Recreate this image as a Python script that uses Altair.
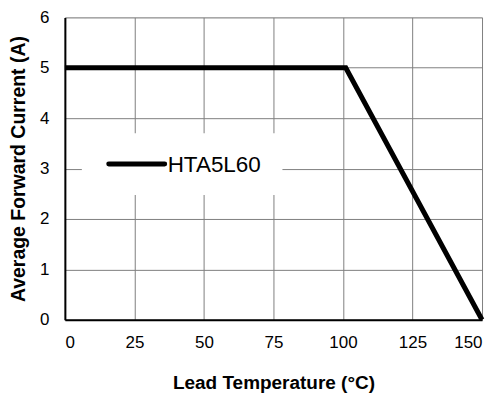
import altair as alt
import pandas as pd

temps = [0, 101, 150]
currents = [5, 5, 0]
series = "HTA5L60"
x_ticks = [0, 25, 50, 75, 100, 125, 150]
y_ticks = [0, 1, 2, 3, 4, 5, 6]

df = pd.DataFrame({"t": temps, "i": currents})

FONT = "Liberation Sans"

x = alt.X("t:Q", scale=alt.Scale(domain=[0, 150], nice=False),
          axis=alt.Axis(values=x_ticks, title="Lead Temperature (°C)", ticks=False,
                        labelPadding=15, titlePadding=23, labelFontSize=17,
                        titleFontSize=19, titleFontWeight="bold", labelColor="black",
                        titleColor="black", domainColor="black", domainWidth=2,
                        gridColor="#808080", gridWidth=1, labelFont=FONT, titleFont=FONT))
y = alt.Y("i:Q", scale=alt.Scale(domain=[0, 6], nice=False),
          axis=alt.Axis(values=y_ticks, title="Average Forward Current (A)", ticks=False,
                        labelPadding=16, titlePadding=11, labelFontSize=17,
                        titleFontSize=19.5, titleFontWeight="bold", labelColor="black",
                        titleColor="black", domainColor="black", domainWidth=2,
                        gridColor="#808080", gridWidth=1, labelFont=FONT, titleFont=FONT))

line = alt.Chart(df).mark_line(color="black", strokeWidth=5).encode(x=x, y=y)

legend_bg = alt.Chart(pd.DataFrame({"s": [series]})).mark_rect(fill="white").encode(
    x=alt.value(17), x2=alt.value(218), y=alt.value(116), y2=alt.value(178))
legend_line = alt.Chart(pd.DataFrame({"s": [series]})).mark_rule(
    color="black", strokeWidth=5, strokeCap="round").encode(
    x=alt.value(44), x2=alt.value(100), y=alt.value(147))
legend_text = alt.Chart(pd.DataFrame({"s": [series]})).mark_text(
    align="left", baseline="middle", fontSize=22.5, font=FONT, color="black").encode(
    x=alt.value(103), y=alt.value(148), text="s:N")

chart = alt.layer(legend_bg, line, legend_line, legend_text).properties(
    width=418, height=303,
    autosize=alt.AutoSizeParams(type="none"),
    padding={"left": 57, "top": 9, "right": 10, "bottom": 77},
).configure_view(stroke="#808080", strokeWidth=2).configure(background="white")

chart.save("out.html", embed_options={"renderer": "svg", "actions": False})
